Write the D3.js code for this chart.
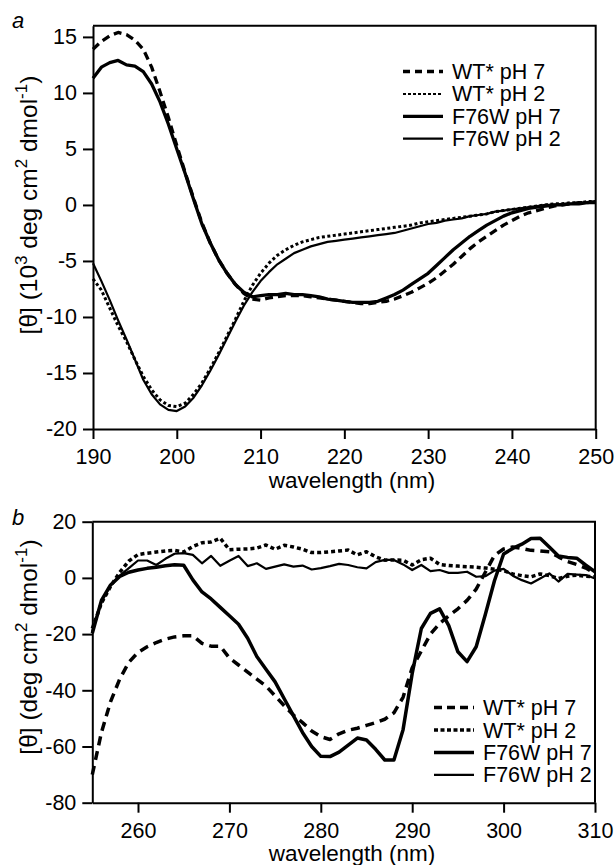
<!DOCTYPE html>
<html>
<head>
<meta charset="utf-8">
<script src="https://cdn.jsdelivr.net/npm/d3@7"></script>
<style>
body { margin: 0; background: #fff; }
text { font-family: "Liberation Sans", Arial, sans-serif; fill: #000; }
</style>
</head>
<body>
<svg id="chart" width="616" height="865"></svg>
<script>
// ---- panel a : far-UV CD ----
var wlA = [190,191,192,193,194,195,196,197,198,199,200,201,202,203,204,205,206,207,208,209,
           210,211,212,213,214,215,216,217,218,219,220,221,222,223,224,225,226,227,228,229,
           230,231,232,233,234,235,236,237,238,239,240,241,242,243,244,245,246,247,248,249,250];
var wt7A = [13.9,14.6,15.1,15.4,15.2,14.7,13.9,12.3,10.1,7.8,5.3,2.9,0.6,-1.6,-3.4,-4.9,-6.1,-7.1,-7.9,-8.4,
            -8.5,-8.3,-8.2,-8.1,-8.1,-8.1,-8.2,-8.3,-8.4,-8.5,-8.6,-8.7,-8.8,-8.8,-8.7,-8.6,-8.4,-8.1,-7.8,-7.4,
            -7.0,-6.5,-5.9,-5.3,-4.6,-3.9,-3.3,-2.8,-2.3,-1.8,-1.4,-1.0,-0.7,-0.5,-0.3,-0.1,0.0,0.1,0.2,0.2,0.3];
var wt2A = [-6.6,-7.6,-9.2,-10.8,-12.2,-13.8,-15.3,-16.5,-17.4,-17.9,-18.0,-17.7,-16.9,-15.9,-14.6,-13.2,-11.7,-10.2,-8.6,-7.2,
            -6.1,-5.2,-4.5,-4.0,-3.6,-3.3,-3.1,-2.9,-2.8,-2.7,-2.6,-2.5,-2.4,-2.3,-2.2,-2.1,-2.0,-1.9,-1.8,-1.6,
            -1.5,-1.4,-1.3,-1.2,-1.1,-1.0,-0.9,-0.8,-0.6,-0.5,-0.4,-0.3,-0.2,-0.1,0.0,0.1,0.1,0.2,0.2,0.3,0.3];
var f7A  = [11.3,12.3,12.7,12.9,12.5,12.4,11.9,10.8,9.2,7.2,5.0,2.8,0.5,-1.7,-3.4,-4.9,-6.1,-7.1,-7.8,-8.2,
            -8.1,-8.0,-8.0,-7.9,-8.0,-8.0,-8.1,-8.2,-8.4,-8.5,-8.6,-8.7,-8.7,-8.7,-8.6,-8.3,-8.0,-7.6,-7.1,-6.6,
            -6.1,-5.4,-4.7,-4.0,-3.4,-2.8,-2.3,-1.8,-1.4,-1.0,-0.7,-0.5,-0.3,-0.2,-0.1,0.0,0.0,0.1,0.1,0.2,0.2];
var f2A  = [-5.2,-6.8,-8.5,-10.3,-12.0,-13.8,-15.6,-16.9,-17.8,-18.3,-18.4,-18.0,-17.2,-16.1,-14.8,-13.4,-11.9,-10.4,-9.0,-7.8,
            -6.8,-6.0,-5.3,-4.8,-4.3,-4.0,-3.7,-3.5,-3.3,-3.2,-3.1,-3.0,-2.9,-2.8,-2.7,-2.6,-2.5,-2.3,-2.1,-1.9,
            -1.7,-1.6,-1.4,-1.3,-1.2,-1.0,-0.9,-0.8,-0.6,-0.5,-0.4,-0.3,-0.2,-0.1,0.0,0.0,0.1,0.1,0.2,0.2,0.2];
var xTicksA = [190,200,210,220,230,240,250];
var yTicksA = [-20,-15,-10,-5,0,5,10,15];

// ---- panel b : near-UV CD ----
var wlB = [255,256,257,258,259,260,261,262,263,264,265,266,267,268,269,270,271,272,273,274,
           275,276,277,278,279,280,281,282,283,284,285,286,287,288,289,290,291,292,293,294,
           295,296,297,298,299,300,301,302,303,304,305,306,307,308,309,310];
var wt7B = [-70,-55,-44,-36,-30,-26.5,-24.5,-23,-21.8,-21,-20.6,-20.6,-23.3,-24.3,-24.3,-28.5,-31,-33.5,-36,-38.5,
            -42,-45.5,-48.8,-51.5,-54.5,-56.5,-57.5,-55.5,-54.2,-53.5,-52.5,-51.5,-50.3,-48,-42.5,-32,-26,-20,-16.2,-13.5,
            -11,-8,-4,2,8,10.3,11,10.5,9.8,9.6,9.3,7.5,5.8,4.8,3.5,1.6];
var wt2B = [-18,-9,-3,2,6,8.3,8.8,9.2,9.6,9.8,9.2,11.2,12.5,12.8,14.1,10,10.2,10.3,10.6,11.7,
            10.2,11.6,11,10.2,9,9,9.3,9.6,9.9,8.2,9.3,7.5,6.3,6.4,6.3,4.6,6.5,7,4.8,4.4,
            4.2,4,3.8,3.5,3.1,2.6,1.4,0.8,0.4,1.4,0.8,-0.2,0.6,1,0.6,0.4];
var f7B  = [-19.7,-8,-2.5,0.5,2,2.8,3.4,3.8,4.3,4.7,4.5,-0.7,-5,-7.5,-10.5,-13.5,-16.5,-21.5,-28,-32.5,
            -37,-43,-49,-55,-60,-63.5,-63.6,-62,-59.5,-57,-57.7,-61,-64.8,-64.8,-54,-34,-18,-12.6,-11,-17,
            -26.3,-29.8,-24.5,-13,-1,8.5,10.5,12,14,14.1,11,7.8,7.3,7,4.5,2.2];
var f2B  = [-19,-8.5,-2.5,0.8,3.5,6.2,6.2,4.6,6.8,8.6,8.8,8.2,5.2,7.8,4.3,6.1,7.8,4.2,5.2,3.2,
            4,4.8,4,4.4,3,3.5,4.2,5,4.6,3.8,3.4,5.6,6.4,6.4,4.8,2.8,4.6,2.4,2.8,1.8,
            1.8,2.2,0.4,0.6,2.6,3.2,0.8,-0.8,-2,-0.2,1.6,-1.3,1.4,1.2,1,-0.2];
var xTicksB = [260,270,280,290,300,310];
var yTicksB = [-80,-60,-40,-20,0,20];

var seriesNames = ["WT* pH 7", "WT* pH 2", "F76W pH 7", "F76W pH 2"];

var svg = d3.select("#chart");

function drawPanel(cfg) {
    var x = d3.scaleLinear().domain(cfg.xDom).range([cfg.left, cfg.right]);
    var y = d3.scaleLinear().domain(cfg.yDom).range([cfg.bottom, cfg.top]);
    var g = svg.append("g");

    // frame (top + right)
    g.append("path")
        .attr("d", "M" + cfg.left + "," + cfg.top + "H" + cfg.right + "V" + cfg.bottom)
        .attr("fill", "none").attr("stroke", "#000").attr("stroke-width", 2);

    var fmt = function(d) { return String(d); };
    var xAxis = g.append("g")
        .attr("transform", "translate(0," + cfg.bottom + ")")
        .call(d3.axisBottom(x).tickValues(cfg.xTicks).tickSize(10).tickSizeOuter(0).tickPadding(10).tickFormat(fmt));
    var yAxis = g.append("g")
        .attr("transform", "translate(" + cfg.left + ",0)")
        .call(d3.axisLeft(y).tickValues(cfg.yTicks).tickSize(10).tickSizeOuter(0).tickPadding(6).tickFormat(fmt));
    [xAxis, yAxis].forEach(function(a) {
        a.attr("font-family", null).attr("font-size", 21.5);
        a.selectAll("path, line").attr("stroke-width", 2);
    });

    var line = d3.line()
        .x(function(d) { return x(d[0]); })
        .y(function(d) { return y(d[1]); });

    cfg.series.forEach(function(s, i) {
        var pts = cfg.wl.map(function(w, k) { return [w, s[k]]; });
        var st = cfg.styles[i];
        g.append("path")
            .datum(pts)
            .attr("d", line)
            .attr("fill", "none")
            .attr("stroke", "#000")
            .attr("stroke-width", st.w)
            .attr("stroke-dasharray", st.dash)
            .attr("stroke-linejoin", "round");
    });

    // legend
    seriesNames.forEach(function(name, i) {
        var ly = cfg.legY + i * cfg.legStep;
        var st = cfg.legStyles[i];
        g.append("line")
            .attr("x1", cfg.legX).attr("x2", cfg.legX + 40)
            .attr("y1", ly).attr("y2", ly)
            .attr("stroke", "#000")
            .attr("stroke-width", st.w)
            .attr("stroke-dasharray", st.dash);
        g.append("text")
            .attr("x", cfg.legX + 49).attr("y", ly + 7.5)
            .attr("font-size", 21.5)
            .text(name);
    });

    // axis titles
    g.append("text")
        .attr("x", 352).attr("y", cfg.bottom + cfg.xTitleDy)
        .attr("text-anchor", "middle").attr("font-size", 22.5)
        .text("wavelength (nm)");

    var yt = g.append("text")
        .attr("transform", "translate(37," + cfg.yTitleCy + ") rotate(-90)")
        .attr("text-anchor", "middle").attr("font-size", 24.5);
    var shift = 0;
    cfg.yTitle.forEach(function(p) {
        var ts = yt.append("tspan").text(p[0]);
        if (p[1]) {
            ts.attr("font-size", 17).attr("dy", -10 - shift);
            shift = -10;
        } else {
            ts.attr("dy", -shift);
            shift = 0;
        }
    });

    // panel letter
    g.append("text")
        .attr("x", 12).attr("y", cfg.letterY)
        .attr("font-size", 22).attr("font-style", "italic")
        .text(cfg.letter);
}

drawPanel({
    letter: "a", letterY: 28,
    left: 93, right: 595.7, top: 25.7, bottom: 429,
    xDom: [190, 250], yDom: [-20, 16],
    xTicks: xTicksA, yTicks: yTicksA,
    wl: wlA, series: [wt7A, wt2A, f7A, f2A],
    styles: [{w: 3.3, dash: "8,5"}, {w: 3, dash: "3,2.5"}, {w: 3.3, dash: null}, {w: 2.2, dash: null}],
    legStyles: [{w: 3.3, dash: "7,5"}, {w: 2, dash: "3,2"}, {w: 3.3, dash: null}, {w: 2.2, dash: null}],
    legX: 403, legY: 71.5, legStep: 22.4,
    xTitleDy: 58.5, yTitleCy: 205,
    yTitle: [["[θ] (10"], ["3", 1], [" deg cm"], ["2", 1], [" dmol"], ["-1", 1], [")"]]
});

drawPanel({
    letter: "b", letterY: 525,
    left: 92.3, right: 595, top: 521.7, bottom: 802.7,
    xDom: [255, 310], yDom: [-80, 20],
    xTicks: xTicksB, yTicks: yTicksB,
    wl: wlB, series: [wt7B, wt2B, f7B, f2B],
    styles: [{w: 3.5, dash: "9,6"}, {w: 3.5, dash: "4,3"}, {w: 3.5, dash: null}, {w: 2.2, dash: null}],
    legStyles: [{w: 3.5, dash: "8,5"}, {w: 3.5, dash: "4,2.5"}, {w: 3.5, dash: null}, {w: 2.2, dash: null}],
    legX: 434, legY: 707.6, legStep: 22.4,
    xTitleDy: 58, yTitleCy: 647,
    yTitle: [["[θ] (deg cm"], ["2", 1], [" dmol"], ["-1", 1], [")"]]
});
</script>
</body>
</html>
